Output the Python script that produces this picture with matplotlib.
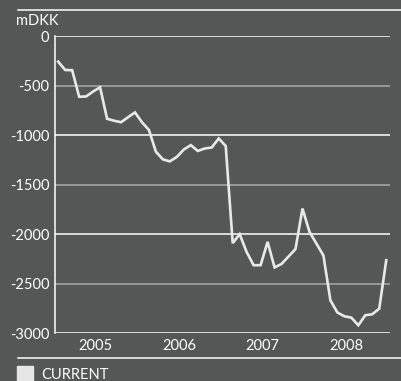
import matplotlib
matplotlib.use("Agg")
import matplotlib.pyplot as plt
from matplotlib.patches import Rectangle
from matplotlib.lines import Line2D

# monthly balance, Jan 2005 .. Dec 2008 (mDKK)
current = [
    -259, -343, -345, -613, -610, -560, -518, -835, -855, -870, -820, -771,
    -870, -949, -1168, -1245, -1265, -1220, -1145, -1101, -1160, -1135, -1125, -1034,
    -1110, -2090, -2000, -2180, -2313, -2313, -2077, -2335, -2300, -2225, -2150, -1741,
    -1976, -2095, -2215, -2667, -2790, -2828, -2842, -2919, -2818, -2808, -2751, -2263,
]
years = [2005, 2006, 2007, 2008]
y_ticks = [0, -500, -1000, -1500, -2000, -2500, -3000]

BG = "#555756"
FG = "#ffffff"
plt.rcParams["font.family"] = ["Lato", "DejaVu Sans"]

fig = plt.figure(figsize=(4.01, 3.81), dpi=100, facecolor=BG)
W, H = 401, 381
ax = fig.add_axes([55 / W, 47.7 / H, 335 / W, 297.3 / H], facecolor=BG)

x = [years[0] + (i + 0.7) / 12 for i in range(len(current))]

# grid: full thousands white, half thousands grey
for v in y_ticks:
    col = FG if v % 1000 == 0 else "#a9aaa9"
    ax.axhline(v, color=col, lw=1.1, zorder=1)

ax.plot(x, current, color="#e9e9e9", lw=1.9, zorder=3, solid_joinstyle="miter")

ax.set_xlim(2005.02, 2009.02)
ax.set_ylim(-3000, 0)
ax.set_yticks(y_ticks)
ax.set_yticklabels([str(v) for v in y_ticks], color=FG, fontsize=10.5)
ax.set_xticks([yr + 0.5 for yr in years])
ax.set_xticklabels([str(yr) for yr in years], color=FG, fontsize=10.5)
ax.tick_params(length=0, pad=4)
for s in ["top", "right", "bottom"]:
    ax.spines[s].set_visible(False)
ax.spines["left"].set_color(FG)
ax.spines["left"].set_linewidth(1.1)

fig.text(16 / W, 1 - 21 / H, "mDKK", color=FG, fontsize=10.5, va="center", ha="left")

# frame lines top and bottom
fig.add_artist(Line2D([18 / W, 1], [1 - 10 / H] * 2, color=FG, lw=1.1))
fig.add_artist(Line2D([18 / W, 1], [1 - 358 / H] * 2, color=FG, lw=1.1))

# legend
fig.add_artist(Rectangle((17 / W, 0), 16 / W, 15 / H, color="#e6e6e6", transform=fig.transFigure))
fig.text(41 / W, 6 / H, "CURRENT", color=FG, fontsize=10.5, va="center", ha="left")

fig.savefig("out.png", dpi=100, facecolor=BG)
